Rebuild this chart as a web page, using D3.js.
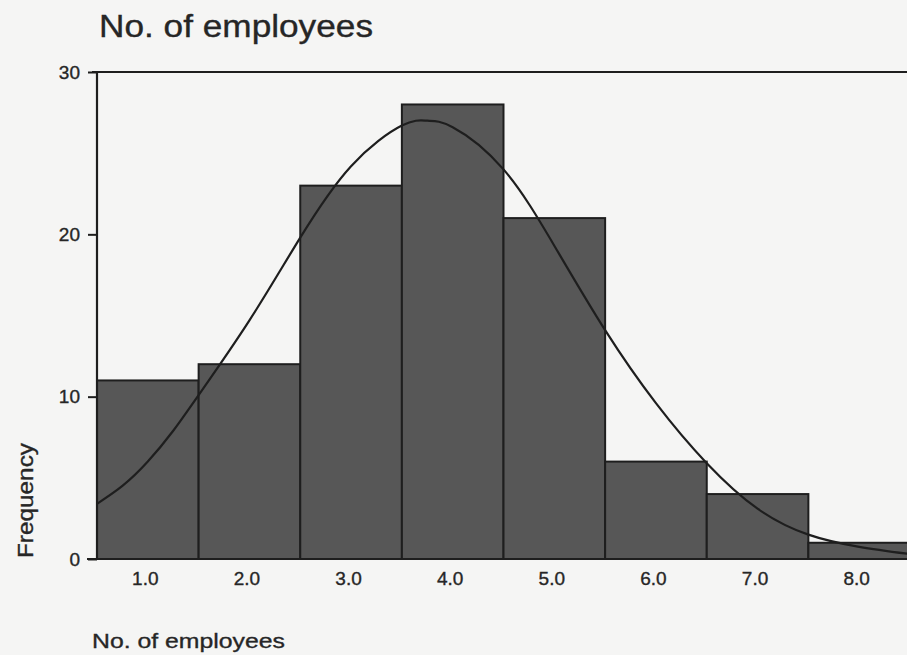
<!DOCTYPE html>
<html>
<head>
<meta charset="utf-8">
<script src="https://cdn.jsdelivr.net/npm/d3@7"></script>
<style>
  html, body { margin: 0; padding: 0; background: #f5f5f4; }
  svg { display: block; }
  text { font-family: Arial, "Liberation Sans", Helvetica, sans-serif; fill: #262626; stroke: #262626; stroke-width: 0.35px; }
</style>
</head>
<body>
<svg id="chart" width="907" height="655"></svg>
<script>
// Histogram: number of employees per firm, with fitted normal curve
const binCenters = [1, 2, 3, 4, 5, 6, 7, 8];
const frequencies = [11, 12, 23, 28, 21, 6, 4, 1];
const xTickLabels = ["1.0", "2.0", "3.0", "4.0", "5.0", "6.0", "7.0", "8.0"];
const yTicks = [0, 10, 20, 30];

// Normal curve traced as (value, frequency) pairs
const curveX = [0.5, 0.75, 1.0, 1.25, 1.5, 2.0, 2.5, 3.0, 3.5, 3.75, 4.0, 4.5, 5.0, 5.5, 6.0, 6.5, 7.0, 7.5, 8.0, 8.5];
const curveY = [3.4, 4.5, 6.0, 7.9, 10.1, 14.7, 19.8, 24.2, 26.7, 27.0, 26.6, 24.0, 19.3, 14.1, 9.6, 5.9, 3.1, 1.5, 0.75, 0.3];

const svg = d3.select("#chart");
const W = 907, H = 655;

svg.append("rect").attr("width", W).attr("height", H).attr("fill", "#f5f5f4");

const x = d3.scaleLinear().domain([0.5, 8.5]).range([97, 910]);
const y = d3.scaleLinear().domain([0, 30]).range([559, 72]);

const ink = "#1e1e1e";

// Bars
svg.append("g").selectAll("rect")
  .data(binCenters.map((c, i) => ({ c, f: frequencies[i] })))
  .join("rect")
  .attr("x", d => x(d.c - 0.5))
  .attr("y", d => y(d.f))
  .attr("width", d => x(d.c + 0.5) - x(d.c - 0.5))
  .attr("height", d => y(0) - y(d.f))
  .attr("fill", "#575757")
  .attr("stroke", ink)
  .attr("stroke-width", 2);

// Fitted curve
const line = d3.line()
  .x(d => x(d[0]))
  .y(d => y(d[1]))
  .curve(d3.curveNatural);
svg.append("path")
  .datum(curveX.map((v, i) => [v, curveY[i]]))
  .attr("d", line)
  .attr("fill", "none")
  .attr("stroke", ink)
  .attr("stroke-width", 2.2);

// Frame: top line, left axis, bottom axis
svg.append("line").attr("x1", 92).attr("x2", W).attr("y1", y(30)).attr("y2", y(30))
  .attr("stroke", ink).attr("stroke-width", 2.2);
svg.append("line").attr("x1", x(0.5)).attr("x2", x(0.5)).attr("y1", y(30)).attr("y2", y(0))
  .attr("stroke", ink).attr("stroke-width", 2.2);
svg.append("line").attr("x1", 87).attr("x2", W).attr("y1", y(0)).attr("y2", y(0))
  .attr("stroke", ink).attr("stroke-width", 2.2);

// Y axis ticks and labels
const yAxis = d3.axisLeft(y).tickValues(yTicks).tickSize(9).tickPadding(8)
  .tickFormat(d3.format("d"));
const gy = svg.append("g").attr("transform", `translate(${x(0.5)},0)`).call(yAxis);
gy.select(".domain").remove();
gy.selectAll(".tick line").attr("stroke", ink).attr("stroke-width", 2);
gy.selectAll(".tick text")
  .attr("font-size", 19).attr("fill", "#262626")
  .attr("font-family", "Arial, 'Liberation Sans', sans-serif");

// X axis labels at bin centres
const xAxis = d3.axisBottom(x).tickValues(binCenters).tickSize(0).tickPadding(13)
  .tickFormat((d, i) => xTickLabels[i]);
const gx = svg.append("g").attr("transform", `translate(-3,${y(0)})`).call(xAxis);
gx.select(".domain").remove();
gx.selectAll(".tick text")
  .attr("font-size", 19).attr("fill", "#262626")
  .attr("font-family", "Arial, 'Liberation Sans', sans-serif");

// Title
svg.append("text")
  .attr("x", 99).attr("y", 37)
  .attr("font-size", 31)
  .attr("textLength", 274).attr("lengthAdjust", "spacingAndGlyphs")
  .text("No. of employees");

// Axis titles
svg.append("text")
  .attr("x", 92).attr("y", 648)
  .attr("font-size", 21)
  .attr("textLength", 193).attr("lengthAdjust", "spacingAndGlyphs")
  .text("No. of employees");

svg.append("text")
  .attr("transform", "translate(33,558) rotate(-90)")
  .attr("font-size", 22)
  .attr("textLength", 115).attr("lengthAdjust", "spacingAndGlyphs")
  .text("Frequency");
</script>
</body>
</html>
